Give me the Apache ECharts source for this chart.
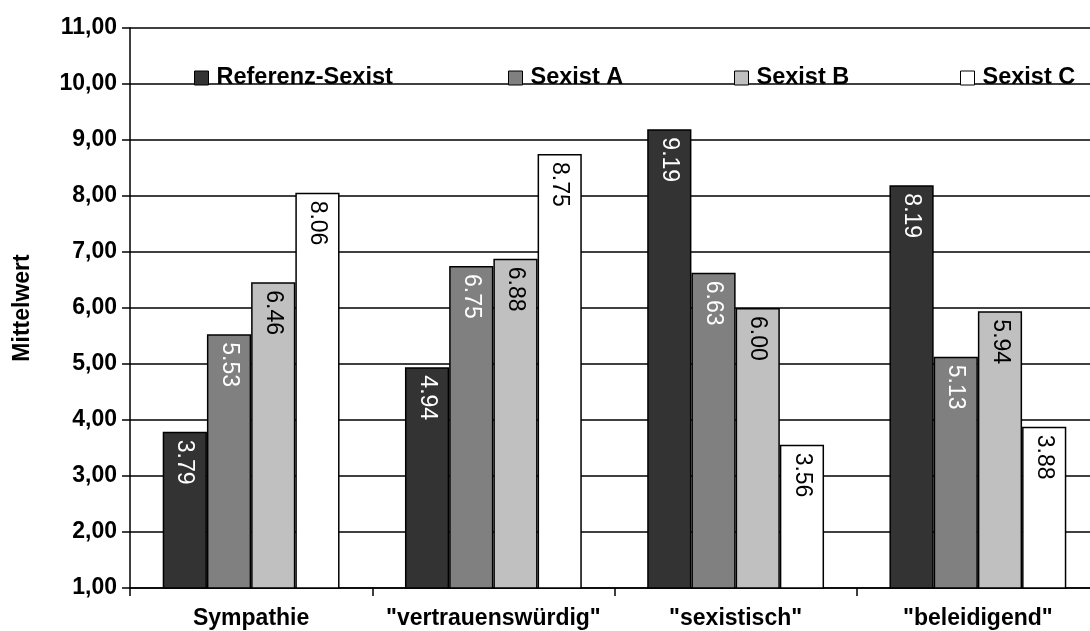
<!DOCTYPE html>
<html>
<head>
<meta charset="utf-8">
<script src="https://cdn.jsdelivr.net/npm/echarts@6/dist/echarts.min.js"></script>
<style>
  html, body { margin: 0; padding: 0; background: #fff; }
  #chart { width: 1090px; height: 631px; }
</style>
</head>
<body>
<div id="chart"></div>
<script>
// Rating items on the x axis
const categories = ['Sympathie', '"vertrauenswürdig"', '"sexistisch"', '"beleidigend"'];

// Mean ratings per target person
const referenzSexist = [3.79, 4.94, 9.19, 8.19];
const sexistA = [5.53, 6.75, 6.63, 5.13];
const sexistB = [6.46, 6.88, 6.00, 5.94];
const sexistC = [8.06, 8.75, 3.56, 3.88];

const seriesNames = ['Referenz-Sexist', 'Sexist A', 'Sexist B', 'Sexist C'];
const seriesValues = [referenzSexist, sexistA, sexistB, sexistC];
const fills = ['#333333', '#808080', '#c0c0c0', '#ffffff'];
const labelColors = ['#ffffff', '#ffffff', '#000000', '#000000'];

// y axis range
const yMin = 1, yMax = 11, yStep = 1;

const font = '"Liberation Sans", Arial, Helvetica, sans-serif';
const legendLefts = [194, 508, 734, 960];

const chart = echarts.init(document.getElementById('chart'), null, { renderer: 'canvas' });

const series = seriesNames.map((name, i) => ({
  name: name,
  type: 'bar',
  data: seriesValues[i],
  barGap: '0%',
  barCategoryGap: '27%',
  itemStyle: { color: fills[i], borderColor: '#000', borderWidth: 1.5 },
  label: {
    show: true,
    position: 'insideTop',
    rotate: -90,
    align: 'left',
    verticalAlign: 'middle',
    distance: 8,
    color: labelColors[i],
    fontFamily: font,
    fontSize: 23,
    formatter: p => p.value.toFixed(2)
  },
  emphasis: { disabled: true },
  animation: false
}));

const legends = seriesNames.map((name, i) => ({
  data: [name],
  left: legendLefts[i],
  top: 66,
  orient: 'horizontal',
  icon: 'rect',
  itemWidth: 14,
  itemHeight: 14,
  itemGap: 0,
  padding: 0,
  selectedMode: false,
  itemStyle: { borderColor: '#000', borderWidth: 1 },
  textStyle: { fontFamily: font, fontSize: 23.5, fontWeight: 'bold', color: '#000', padding: [0, 0, 0, 3] }
}));

chart.setOption({
  backgroundColor: '#fff',
  animation: false,
  legend: legends,
  grid: { left: 130, right: -9, top: 28, bottom: 43, containLabel: false, outerBoundsMode: 'none' },
  xAxis: {
    type: 'category',
    data: categories,
    axisLine: { lineStyle: { color: '#000', width: 1.5 } },
    axisTick: { show: true, length: 8, lineStyle: { color: '#000', width: 1.5 } },
    axisLabel: { color: '#000', fontFamily: font, fontSize: 23, fontWeight: 'bold', margin: 19, interval: 0 },
    splitLine: { show: false }
  },
  yAxis: {
    type: 'value',
    min: yMin,
    max: yMax,
    interval: yStep,
    name: 'Mittelwert',
    nameLocation: 'middle',
    nameGap: 96,
    nameRotate: 90,
    nameTextStyle: { color: '#000', fontFamily: font, fontSize: 23, fontWeight: 'bold' },
    axisLine: { show: true, lineStyle: { color: '#000', width: 1.5 } },
    axisTick: { show: true, length: 8, lineStyle: { color: '#000', width: 1.5 } },
    axisLabel: {
      color: '#000', fontFamily: font, fontSize: 23, fontWeight: 'bold', margin: 13,
      formatter: v => v.toFixed(2).replace('.', ',')
    },
    splitLine: { show: true, lineStyle: { color: '#000', width: 1.5 } }
  },
  series: series
});
</script>
</body>
</html>
